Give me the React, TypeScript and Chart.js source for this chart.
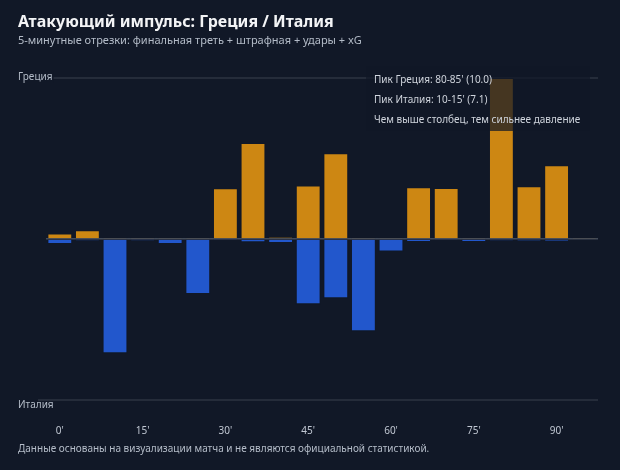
import React, { useEffect, useRef } from "react";
import { Chart, registerables } from "chart.js";

Chart.register(...registerables);

// ---- Data ----
const intervalStarts = [0, 5, 10, 15, 20, 25, 30, 35, 40, 45, 50, 55, 60, 65, 70, 75, 80, 85, 90, 95];
const greeceValues = [0.34, 0.54, 0.08, 0.08, 0.08, 0.08, 3.15, 5.96, 0.12, 3.33, 5.32, 0.08, 0.08, 3.21, 3.17, 0.08, 10.0, 3.27, 4.58, 0.08];
const italyValues = [0.31, 0.1, 7.1, 0.1, 0.31, 3.42, 0.03, 0.2, 0.25, 4.06, 3.68, 5.73, 0.78, 0.19, 0.03, 0.19, 0.1, 0.12, 0.15, 0.05];
const tickEvery = 3;

const TITLE = "Атакующий импульс: Греция / Италия";
const SUBTITLE = "5-минутные отрезки: финальная треть + штрафная + удары + xG";
const FOOTER = "Данные основаны на визуализации матча и не являются официальной статистикой.";
const TEAM_A = "Греция";
const TEAM_B = "Италия";
const NOTE = "Чем выше столбец, тем сильнее давление";

const BG = "#111827";
const FONT = "'Noto Sans', 'Open Sans', sans-serif";
const ORANGE = "#CD8713";
const BLUE = "#2257CC";

function peakText(team: string, values: number[]) {
  let idx = 0;
  values.forEach((v, i) => { if (v > values[idx]) idx = i; });
  const s = intervalStarts[idx];
  return `Пик ${team}: ${s}-${s + 5}' (${values[idx].toFixed(1)})`;
}

const decorPlugin = {
  id: "decor",
  beforeDraw(chart: any) {
    const { ctx, width, height } = chart;
    ctx.save();
    ctx.fillStyle = BG;
    ctx.fillRect(0, 0, width, height);
    ctx.restore();
  },
  afterDatasetsDraw(chart: any) {
    const { ctx } = chart;
    ctx.save();
    // annotation box
    ctx.fillStyle = "rgba(17,24,39,0.72)";
    ctx.fillRect(366, 66, 224, 65);
    ctx.fillStyle = "#cfd4dc";
    ctx.font = `10px ${FONT}`;
    ctx.textBaseline = "middle";
    ctx.textAlign = "left";
    ctx.fillText(peakText(TEAM_A, greeceValues), 374, 80);
    ctx.fillText(peakText(TEAM_B, italyValues), 374, 100);
    ctx.fillText(NOTE, 374, 120);
    ctx.restore();
  },
  afterDraw(chart: any) {
    const { ctx } = chart;
    ctx.save();
    ctx.textAlign = "left";
    ctx.textBaseline = "middle";
    ctx.fillStyle = "#f3f4f6";
    ctx.font = `bold 16px ${FONT}`;
    ctx.fillText(TITLE, 18, 22);
    ctx.fillStyle = "#b4bcc8";
    ctx.font = `11px ${FONT}`;
    ctx.fillText(SUBTITLE, 18, 41);
    // team labels
    ctx.font = `10px ${FONT}`;
    const wA = ctx.measureText(TEAM_A).width;
    ctx.fillStyle = BG;
    ctx.fillRect(18, 71, wA + 1, 12);
    ctx.fillStyle = "#b4bcc8";
    ctx.fillText(TEAM_A, 18, 77);
    ctx.fillText(TEAM_B, 18, 405);
    ctx.fillText(FOOTER, 18, 449.5);
    ctx.restore();
  },
};

export default function App() {
  const canvasRef = useRef<HTMLCanvasElement | null>(null);

  useEffect(() => {
    document.body.style.margin = "0";
    document.body.style.background = BG;
    const canvas = canvasRef.current;
    if (!canvas) return;
    const chart = new Chart(canvas, {
      type: "bar",
      data: {
        labels: intervalStarts.map((s) => `${s}'`),
        datasets: [
          {
            label: TEAM_A,
            data: greeceValues,
            backgroundColor: ORANGE,
            borderColor: "rgba(17,24,39,0.5)",
            borderWidth: 1,
          },
          {
            label: TEAM_B,
            data: italyValues.map((v) => -v),
            backgroundColor: BLUE,
            borderColor: "rgba(17,24,39,0.5)",
            borderWidth: 1,
          },
        ],
      },
      options: {
        animation: false,
        responsive: true,
        maintainAspectRatio: false,
        layout: { padding: { top: 78, left: 18, right: 22, bottom: 0 } },
        datasets: { bar: { categoryPercentage: 1, barPercentage: 0.9 } },
        plugins: {
          legend: { display: false },
          tooltip: { enabled: false },
          title: { display: false },
        },
        scales: {
          x: {
            stacked: true,
            grid: { display: false, drawTicks: false },
            border: { display: false },
            ticks: {
              autoSkip: false,
              maxRotation: 0,
              padding: 25,
              color: "#c0c7d2",
              font: { family: FONT, size: 10 },
              callback: (_v: any, i: number) => (i % tickEvery === 0 ? `${intervalStarts[i]}'` : ""),
            },
            afterFit: (scale: any) => { scale.height = 70; },
          },
          y: {
            stacked: true,
            min: -10,
            max: 10,
            ticks: { display: false, stepSize: 10 },
            border: { display: false },
            grid: {
              color: (c: any) => (c.tick && c.tick.value === 0 ? "rgba(110,118,132,0.55)" : "#252c3a"),
              tickColor: (c: any) => (c.tick && c.tick.value === 0 ? "rgba(0,0,0,0)" : "#252c3a"),
              lineWidth: (c: any) => (c.tick && c.tick.value === 0 ? 1.5 : 2),
              tickLength: 8,
            },
            afterFit: (scale: any) => { scale.width = 28; },
          },
        },
      },
      plugins: [decorPlugin],
    } as any);
    return () => chart.destroy();
  }, []);

  return (
    <div style={{ width: 620, height: 470, position: "relative", background: BG }}>
      <canvas ref={canvasRef} />
    </div>
  );
}
